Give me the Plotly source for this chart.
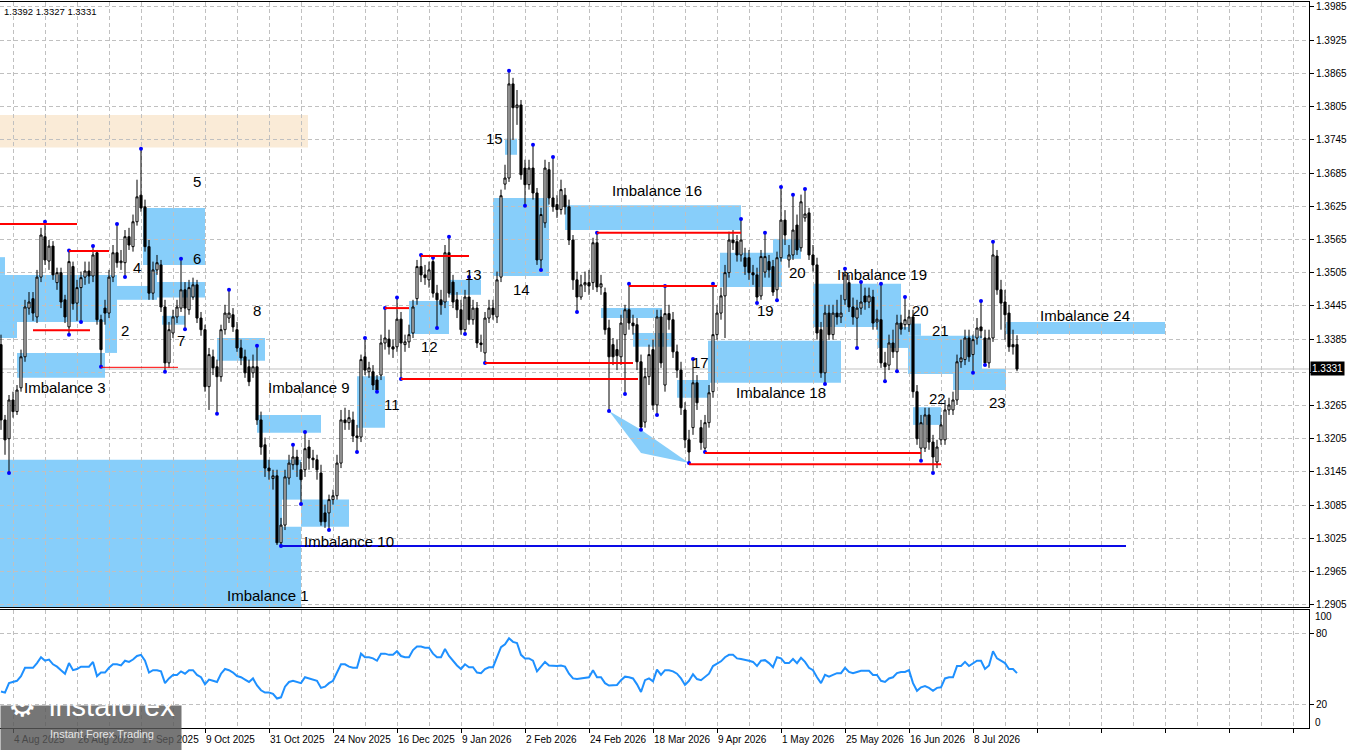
import plotly.graph_objects as go
from plotly.subplots import make_subplots

# daily bars, bar 0 = 4 Aug 2025, leftmost bar is index -3
FIRST_BAR = -3

opens = [
    1.3375, 1.3239, 1.3205, 1.3275, 1.3254, 1.3297, 1.3353, 1.3441, 1.3458, 1.3425,
    1.3497, 1.3570, 1.3526, 1.3553, 1.3487, 1.3505, 1.3456, 1.3407, 1.3516, 1.3450,
    1.3478, 1.3497, 1.3508, 1.3499, 1.3541, 1.3420, 1.3441, 1.3432, 1.3497, 1.3541,
    1.3523, 1.3523, 1.3570, 1.3552, 1.3597, 1.3645, 1.3624, 1.3552, 1.3468, 1.3510,
    1.3519, 1.3443, 1.3342, 1.3396, 1.3425, 1.3441, 1.3474, 1.3438, 1.3461, 1.3483,
    1.3423, 1.3402, 1.3299, 1.3353, 1.3335, 1.3317, 1.3402, 1.3423, 1.3429, 1.3402,
    1.3369, 1.3353, 1.3335, 1.3324, 1.3335, 1.3239, 1.3194, 1.3152, 1.3133, 1.3138,
    1.3017, 1.3049, 1.3134, 1.3158, 1.3172, 1.3149, 1.3149, 1.3190, 1.3170, 1.3167,
    1.3143, 1.3071, 1.3071, 1.3095, 1.3102, 1.3161, 1.3239, 1.3234, 1.3239, 1.3210,
    1.3208, 1.3353, 1.3326, 1.3326, 1.3311, 1.3320, 1.3378, 1.3385, 1.3371, 1.3371,
    1.3421, 1.3375, 1.3380, 1.3396, 1.3458, 1.3516, 1.3501, 1.3492, 1.3525, 1.3468,
    1.3456, 1.3452, 1.3541, 1.3488, 1.3456, 1.3438, 1.3402, 1.3461, 1.3420, 1.3441,
    1.3378, 1.3360, 1.3423, 1.3441, 1.3425, 1.3497, 1.3665, 1.3676, 1.3846, 1.3803,
    1.3808, 1.3694, 1.3664, 1.3694, 1.3649, 1.3528, 1.3595, 1.3691, 1.3640, 1.3628,
    1.3619, 1.3645, 1.3624, 1.3564, 1.3492, 1.3461, 1.3483, 1.3487, 1.3487, 1.3559,
    1.3479, 1.3469, 1.3405, 1.3375, 1.3366, 1.3353, 1.3393, 1.3438, 1.3414, 1.3411,
    1.3344, 1.3235, 1.3317, 1.3366, 1.3266, 1.3425, 1.3302, 1.3431, 1.3420, 1.3362,
    1.3329, 1.3257, 1.3203, 1.3225, 1.3306, 1.3225, 1.3188, 1.3234, 1.3290, 1.3393,
    1.3432, 1.3463, 1.3505, 1.3564, 1.3561, 1.3537, 1.3532, 1.3532, 1.3505, 1.3501,
    1.3463, 1.3506, 1.3525, 1.3516, 1.3474, 1.3532, 1.3600, 1.3528, 1.3537, 1.3591,
    1.3550, 1.3604, 1.3613, 1.3537, 1.3519, 1.3402, 1.3324, 1.3432, 1.3393, 1.3432,
    1.3425, 1.3456, 1.3487, 1.3443, 1.3423, 1.3441, 1.3463, 1.3452, 1.3461, 1.3416,
    1.3420, 1.3342, 1.3338, 1.3378, 1.3362, 1.3414, 1.3411, 1.3411, 1.3425, 1.3290,
    1.3188, 1.3188, 1.3248, 1.3199, 1.3163, 1.3203, 1.3203, 1.3257, 1.3257, 1.3275,
    1.3344, 1.3348, 1.3387, 1.3357, 1.3387, 1.3407, 1.3387, 1.3342, 1.3387, 1.3535,
    1.3474, 1.3452, 1.3432, 1.3375, 1.3375,
]
highs = [
    1.3393, 1.3248, 1.3284, 1.3290, 1.3302, 1.3366, 1.3456, 1.3470, 1.3470, 1.3510,
    1.3586, 1.3597, 1.3564, 1.3562, 1.3514, 1.3514, 1.3465, 1.3545, 1.3525, 1.3492,
    1.3507, 1.3525, 1.3525, 1.3553, 1.3546, 1.3429, 1.3456, 1.3510, 1.3555, 1.3593,
    1.3546, 1.3582, 1.3586, 1.3610, 1.3673, 1.3729, 1.3637, 1.3564, 1.3525, 1.3537,
    1.3528, 1.3456, 1.3416, 1.3438, 1.3456, 1.3530, 1.3488, 1.3492, 1.3496, 1.3492,
    1.3434, 1.3411, 1.3369, 1.3366, 1.3348, 1.3411, 1.3447, 1.3474, 1.3441, 1.3416,
    1.3384, 1.3366, 1.3348, 1.3357, 1.3373, 1.3254, 1.3207, 1.3167, 1.3149, 1.3149,
    1.3062, 1.3149, 1.3176, 1.3194, 1.3185, 1.3163, 1.3217, 1.3203, 1.3185, 1.3176,
    1.3158, 1.3086, 1.3104, 1.3113, 1.3176, 1.3257, 1.3261, 1.3257, 1.3254, 1.3230,
    1.3357, 1.3387, 1.3344, 1.3338, 1.3320, 1.3393, 1.3441, 1.3402, 1.3384, 1.3460,
    1.3434, 1.3393, 1.3411, 1.3456, 1.3528, 1.3537, 1.3519, 1.3525, 1.3532, 1.3483,
    1.3474, 1.3555, 1.3570, 1.3501, 1.3470, 1.3456, 1.3474, 1.3497, 1.3456, 1.3452,
    1.3393, 1.3434, 1.3456, 1.3456, 1.3507, 1.3655, 1.3700, 1.3870, 1.3857, 1.3835,
    1.3817, 1.3709, 1.3709, 1.3736, 1.3658, 1.3622, 1.3709, 1.3705, 1.3714, 1.3645,
    1.3673, 1.3658, 1.3637, 1.3573, 1.3507, 1.3501, 1.3507, 1.3510, 1.3568, 1.3577,
    1.3501, 1.3478, 1.3420, 1.3387, 1.3384, 1.3429, 1.3447, 1.3485, 1.3429, 1.3423,
    1.3357, 1.3333, 1.3375, 1.3384, 1.3438, 1.3438, 1.3481, 1.3447, 1.3434, 1.3375,
    1.3344, 1.3271, 1.3221, 1.3349, 1.3320, 1.3239, 1.3248, 1.3302, 1.3485, 1.3447,
    1.3478, 1.3519, 1.3579, 1.3582, 1.3573, 1.3602, 1.3550, 1.3546, 1.3519, 1.3514,
    1.3546, 1.3577, 1.3537, 1.3528, 1.3543, 1.3660, 1.3618, 1.3555, 1.3646, 1.3610,
    1.3646, 1.3656, 1.3622, 1.3555, 1.3532, 1.3416, 1.3447, 1.3447, 1.3447, 1.3456,
    1.3465, 1.3512, 1.3501, 1.3460, 1.3456, 1.3488, 1.3478, 1.3478, 1.3474, 1.3438,
    1.3485, 1.3362, 1.3393, 1.3402, 1.3429, 1.3429, 1.3461, 1.3438, 1.3438, 1.3302,
    1.3248, 1.3261, 1.3261, 1.3212, 1.3203, 1.3248, 1.3275, 1.3279, 1.3290, 1.3357,
    1.3384, 1.3402, 1.3402, 1.3393, 1.3423, 1.3454, 1.3402, 1.3402, 1.3561, 1.3546,
    1.3492, 1.3474, 1.3447, 1.3402, 1.3392,
]
lows = [
    1.3221, 1.3176, 1.3143, 1.3243, 1.3248, 1.3290, 1.3344, 1.3429, 1.3418, 1.3414,
    1.3488, 1.3519, 1.3510, 1.3492, 1.3474, 1.3441, 1.3414, 1.3393, 1.3438, 1.3418,
    1.3416, 1.3483, 1.3485, 1.3488, 1.3411, 1.3335, 1.3411, 1.3423, 1.3488, 1.3514,
    1.3510, 1.3497, 1.3546, 1.3543, 1.3590, 1.3615, 1.3543, 1.3456, 1.3456, 1.3501,
    1.3434, 1.3326, 1.3333, 1.3387, 1.3414, 1.3434, 1.3403, 1.3429, 1.3456, 1.3414,
    1.3391, 1.3290, 1.3257, 1.3320, 1.3250, 1.3308, 1.3393, 1.3414, 1.3398, 1.3362,
    1.3338, 1.3315, 1.3300, 1.3315, 1.3230, 1.3176, 1.3136, 1.3131, 1.3113, 1.3013,
    1.3011, 1.3040, 1.3122, 1.3149, 1.3136, 1.3087, 1.3136, 1.3149, 1.3152, 1.3131,
    1.3048, 1.3044, 1.3040, 1.3086, 1.3095, 1.3152, 1.3221, 1.3221, 1.3199, 1.3181,
    1.3199, 1.3320, 1.3315, 1.3293, 1.3290, 1.3311, 1.3366, 1.3357, 1.3351, 1.3362,
    1.3313, 1.3362, 1.3369, 1.3387, 1.3447, 1.3488, 1.3483, 1.3478, 1.3460, 1.3405,
    1.3429, 1.3441, 1.3460, 1.3441, 1.3423, 1.3393, 1.3394, 1.3411, 1.3411, 1.3369,
    1.3362, 1.3342, 1.3414, 1.3420, 1.3414, 1.3488, 1.3655, 1.3669, 1.3745, 1.3772,
    1.3673, 1.3626, 1.3655, 1.3637, 1.3519, 1.3510, 1.3586, 1.3628, 1.3615, 1.3604,
    1.3610, 1.3610, 1.3555, 1.3474, 1.3434, 1.3456, 1.3470, 1.3465, 1.3474, 1.3470,
    1.3465, 1.3393, 1.3255, 1.3338, 1.3329, 1.3338, 1.3286, 1.3402, 1.3393, 1.3329,
    1.3221, 1.3225, 1.3302, 1.3257, 1.3248, 1.3333, 1.3290, 1.3402, 1.3351, 1.3315,
    1.3248, 1.3188, 1.3161, 1.3212, 1.3257, 1.3185, 1.3181, 1.3225, 1.3279, 1.3384,
    1.3420, 1.3387, 1.3496, 1.3546, 1.3525, 1.3525, 1.3501, 1.3492, 1.3483, 1.3450,
    1.3456, 1.3496, 1.3496, 1.3463, 1.3455, 1.3525, 1.3555, 1.3514, 1.3528, 1.3537,
    1.3543, 1.3597, 1.3528, 1.3507, 1.3384, 1.3315, 1.3304, 1.3384, 1.3384, 1.3411,
    1.3414, 1.3447, 1.3434, 1.3411, 1.3369, 1.3429, 1.3438, 1.3441, 1.3402, 1.3402,
    1.3333, 1.3309, 1.3329, 1.3351, 1.3327, 1.3393, 1.3402, 1.3398, 1.3279, 1.3194,
    1.3165, 1.3181, 1.3185, 1.3143, 1.3152, 1.3194, 1.3194, 1.3248, 1.3248, 1.3266,
    1.3333, 1.3338, 1.3344, 1.3324, 1.3375, 1.3387, 1.3338, 1.3333, 1.3380, 1.3465,
    1.3402, 1.3384, 1.3362, 1.3357, 1.3327,
]
closes = [
    1.3239, 1.3203, 1.3275, 1.3254, 1.3293, 1.3353, 1.3443, 1.3452, 1.3432, 1.3497,
    1.3573, 1.3528, 1.3553, 1.3501, 1.3505, 1.3452, 1.3425, 1.3525, 1.3449, 1.3478,
    1.3496, 1.3508, 1.3499, 1.3537, 1.3420, 1.3366, 1.3432, 1.3497, 1.3541, 1.3523,
    1.3526, 1.3570, 1.3555, 1.3597, 1.3642, 1.3622, 1.3552, 1.3468, 1.3510, 1.3523,
    1.3443, 1.3342, 1.3402, 1.3425, 1.3443, 1.3474, 1.3441, 1.3478, 1.3483, 1.3423,
    1.3402, 1.3299, 1.3357, 1.3333, 1.3317, 1.3402, 1.3432, 1.3432, 1.3407, 1.3369,
    1.3351, 1.3324, 1.3308, 1.3335, 1.3239, 1.3190, 1.3152, 1.3147, 1.3138, 1.3017,
    1.3049, 1.3136, 1.3161, 1.3172, 1.3158, 1.3131, 1.3187, 1.3170, 1.3167, 1.3149,
    1.3055, 1.3055, 1.3095, 1.3102, 1.3161, 1.3239, 1.3234, 1.3243, 1.3210, 1.3207,
    1.3348, 1.3329, 1.3333, 1.3302, 1.3293, 1.3378, 1.3387, 1.3371, 1.3367, 1.3421,
    1.3378, 1.3380, 1.3393, 1.3443, 1.3516, 1.3501, 1.3496, 1.3510, 1.3468, 1.3456,
    1.3447, 1.3541, 1.3468, 1.3452, 1.3438, 1.3402, 1.3461, 1.3420, 1.3441, 1.3378,
    1.3375, 1.3423, 1.3441, 1.3429, 1.3492, 1.3644, 1.3676, 1.3846, 1.3803, 1.3808,
    1.3682, 1.3664, 1.3694, 1.3649, 1.3528, 1.3610, 1.3694, 1.3640, 1.3624, 1.3619,
    1.3655, 1.3624, 1.3564, 1.3492, 1.3461, 1.3483, 1.3487, 1.3481, 1.3559, 1.3479,
    1.3485, 1.3402, 1.3353, 1.3353, 1.3355, 1.3414, 1.3438, 1.3414, 1.3409, 1.3344,
    1.3226, 1.3317, 1.3357, 1.3266, 1.3425, 1.3342, 1.3431, 1.3420, 1.3362, 1.3329,
    1.3261, 1.3203, 1.3181, 1.3306, 1.3270, 1.3198, 1.3234, 1.3288, 1.3393, 1.3432,
    1.3463, 1.3505, 1.3564, 1.3559, 1.3537, 1.3564, 1.3516, 1.3505, 1.3501, 1.3461,
    1.3534, 1.3534, 1.3510, 1.3470, 1.3532, 1.3600, 1.3573, 1.3537, 1.3582, 1.3546,
    1.3633, 1.3611, 1.3537, 1.3519, 1.3396, 1.3324, 1.3432, 1.3393, 1.3432, 1.3425,
    1.3432, 1.3501, 1.3443, 1.3425, 1.3441, 1.3452, 1.3452, 1.3463, 1.3414, 1.3421,
    1.3342, 1.3335, 1.3378, 1.3362, 1.3414, 1.3403, 1.3420, 1.3425, 1.3290, 1.3205,
    1.3234, 1.3248, 1.3199, 1.3172, 1.3190, 1.3230, 1.3257, 1.3266, 1.3275, 1.3344,
    1.3351, 1.3387, 1.3353, 1.3384, 1.3405, 1.3400, 1.3342, 1.3387, 1.3537, 1.3474,
    1.3450, 1.3429, 1.3371, 1.3371, 1.3331,
]

# oscillator in the lower window, one value per bar
rsi = [
    31, 30, 38, 39, 40, 44, 51, 51, 51, 55,
    60, 57, 58, 54, 52, 49, 46, 55, 49, 50,
    52, 52, 52, 56, 44, 47, 47, 51, 54, 54,
    53, 57, 56, 58, 61, 62, 57, 47, 49, 49,
    48, 38, 42, 45, 45, 48, 46, 49, 49, 45,
    43, 37, 41, 40, 39, 46, 50, 49, 47, 44,
    43, 41, 39, 42, 36, 32, 30, 30, 29, 25,
    26, 35, 39, 40, 39, 38, 43, 42, 41, 40,
    34, 35, 38, 40, 47, 54, 54, 52, 51, 51,
    63, 60, 60, 59, 57, 63, 63, 62, 62, 65,
    61, 60, 60, 66, 69, 69, 68, 68, 63, 60,
    60, 67, 61,
    57, 53, 50, 54, 51.5, 51.5, 47, 46.5, 50, 51.5,
    51.5, 60, 68.5, 71, 76, 73, 72, 62, 59, 59,
    57, 48, 52, 56, 53, 52.5, 52.5, 53, 52, 46,
    42, 41.5, 42, 43, 43, 49, 43, 43, 38, 36,
    36, 36.5, 40.5, 43.5, 43, 42, 37, 30.5, 40.5, 42,
    39.5, 49.5, 45, 49, 49, 48, 46, 42, 36.5, 40,
    45.5, 41.5, 40.5, 43, 46, 52.5, 54.5, 56.5, 60, 62,
    62, 59, 58.5, 58, 57, 56, 52.5, 57, 57.5, 55,
    51.5, 60, 59, 55, 55, 58.5, 55, 59.5, 56, 51,
    49, 43, 38, 45, 43.5, 45, 46.5, 46.5, 51, 47.5,
    46.5, 47.5, 48.5, 48.5, 48.5, 45, 45, 40, 39, 42,
    43, 46.5,
    47.5, 47.5, 49, 38, 31.5, 34.5, 35.5, 34, 31.5, 34,
    34.5, 42, 43, 43, 52.5, 52.5, 56, 52.5, 55, 57,
    57, 50, 53, 65, 59, 57, 55, 50, 50, 46.5,
]

# fractal dots (bar indices)
high_marks = [8, 14, 20, 26, 32, 42, 54, 61, 70, 73, 88, 93, 96, 102, 105, 109, 114,
              124, 130, 135, 146, 154, 163, 170, 175, 182, 188, 192, 195, 198, 208,
              212, 217, 223, 242, 245]
low_marks = [-1, 14, 17, 22, 28, 38, 43, 51, 67, 72, 79, 86, 91, 97, 106, 113, 118,
             128, 132, 141, 149, 153, 157, 161, 169, 173, 186, 191, 203, 211, 218,
             221, 227, 230, 240, 243]

price_ticks = [1.2905, 1.2965, 1.3025, 1.3085, 1.3145, 1.3205, 1.3265, 1.3325, 1.3385,
               1.3445, 1.3505, 1.3565, 1.3625, 1.3685, 1.3745, 1.3805, 1.3865, 1.3925,
               1.3985]
price_tick_text = ['1.2905', '1.2965', '1.3025', '1.3085', '1.3145', '1.3205', '1.3265', '',
                   '1.3385', '1.3445', '1.3505', '1.3565', '1.3625', '1.3685', '1.3745',
                   '1.3805', '1.3865', '1.3925', '1.3985']
date_ticks = [0, 16, 32, 48, 64, 80, 96, 112, 128, 144, 160, 176, 192, 208, 224, 240]
date_labels = ['4 Aug 2025', '26 Aug 2025', '17 Sep 2025', '9 Oct 2025', '31 Oct 2025',
               '24 Nov 2025', '16 Dec 2025', '9 Jan 2026', '2 Feb 2026', '24 Feb 2026',
               '18 Mar 2026', '9 Apr 2026', '1 May 2026', '25 May 2026', '16 Jun 2026',
               '8 Jul 2026']

# imbalance zones, visible pieces: (bar from, bar to, price low, price high)
zones = [
    (-3.25, -2, 1.3501, 1.3533), (-3.25, 26, 1.3416, 1.3501), (-3.25, 1, 1.3387, 1.3416),
    (23, 26, 1.3360, 1.3416), (1, 23, 1.3315, 1.3360),
    (26, 33.75, 1.3456, 1.3481), (33.75, 36, 1.3456, 1.3519), (32.5, 48, 1.3519, 1.3622),
    (36, 48, 1.3460, 1.3488), (37.25, 43, 1.3411, 1.3427), (51, 63, 1.3346, 1.3387),
    (61, 77, 1.3216, 1.3248),
    (-3.25, 67.25, 1.2880, 1.3167), (67.25, 72, 1.3095, 1.3167), (67.25, 72, 1.2880, 1.3046),
    (72, 84, 1.3046, 1.3095), (86, 93, 1.3225, 1.3318),
    (99, 109, 1.3394, 1.3454), (109, 117, 1.3465, 1.3492), (120, 134, 1.3499, 1.3640),
    (123, 126, 1.3718, 1.3747), (138, 182, 1.3582, 1.3627),
    (147, 162.25, 1.3423, 1.3441), (155, 165, 1.3371, 1.3396), (166, 174.25, 1.3279, 1.3311),
    (173.75, 207, 1.3306, 1.3382), (176.75, 192.25, 1.3479, 1.3541), (190, 197, 1.3530, 1.3566),
    (200, 222, 1.3407, 1.3485), (216, 223.75, 1.3369, 1.3407), (223.75, 227, 1.3391, 1.3413),
    (223.75, 242.25, 1.3322, 1.3391), (235, 248.25, 1.3293, 1.3322),
    (242.25, 248.25, 1.3322, 1.3331), (225, 232, 1.3230, 1.3262),
    (248.25, 288, 1.3394, 1.3416),
]
supply_zone = (-3.25, 73.75, 1.3731, 1.3790)
wedge = [(149, 1.3255), (157, 1.3221), (169, 1.3161), (157, 1.3179)]

# horizontal levels: (bar from, bar to, price, width)
red_levels = [
    (-3.25, 16, 1.3593, 2), (14, 24, 1.3544, 2), (5, 19.25, 1.3401, 2), (22, 41.25, 1.3334, 1),
    (93, 99, 1.3441, 2), (102, 114, 1.3535, 2), (118, 155, 1.3342, 2), (97, 156.25, 1.3313, 2),
    (146, 182, 1.3577, 2), (154, 176, 1.3481, 2), (173, 227, 1.3179, 2), (169, 232, 1.3159, 2),
]
blue_level = (67, 278.25, 1.3011)
last_price = 1.3331

zone_labels = [
    (63.75, 1.2922, 'Imbalance 1'), (13, 1.3297, 'Imbalance 3'), (74, 1.3297, 'Imbalance 9'),
    (84, 1.3020, 'Imbalance 10'), (161, 1.3653, 'Imbalance 16'), (192, 1.3289, 'Imbalance 18'),
    (217.25, 1.3501, 'Imbalance 19'), (268, 1.3428, 'Imbalance 24'),
    (28, 1.3400, '2'), (31, 1.3515, '4'), (46, 1.3669, '5'), (46, 1.3530, '6'),
    (42, 1.3383, '7'), (61, 1.3436, '8'), (94.75, 1.3266, '11'), (104, 1.3371, '12'),
    (115, 1.3501, '13'), (127, 1.3474, '14'), (120.25, 1.3747, '15'), (171.75, 1.3342, '17'),
    (188, 1.3436, '19'), (196, 1.3506, '20'), (226.75, 1.3437, '20'), (231.75, 1.3401, '21'),
    (231, 1.3278, '22'), (246, 1.3271, '23'),
]

bars = list(range(FIRST_BAR, FIRST_BAR + len(closes)))
GRID = '#C0C0C0'
FONT = 'Liberation Sans'

fig = make_subplots(rows=2, cols=1, shared_xaxes=True,
                    vertical_spacing=3 / 726, row_heights=[605, 118])

fig.add_trace(go.Candlestick(
    x=bars, open=opens, high=highs, low=lows, close=closes,
    increasing=dict(line=dict(color='black', width=1), fillcolor='white'),
    decreasing=dict(line=dict(color='black', width=1), fillcolor='black'),
    whiskerwidth=0, hoverinfo='skip'), row=1, col=1)

fig.add_trace(go.Scatter(
    x=high_marks + low_marks,
    y=[highs[i - FIRST_BAR] for i in high_marks] + [lows[i - FIRST_BAR] for i in low_marks],
    mode='markers', marker=dict(color='#0000FF', size=4), hoverinfo='skip'), row=1, col=1)

fig.add_trace(go.Scatter(x=bars[:len(rsi)], y=rsi, mode='lines',
                         line=dict(color='#1E90FF', width=2), hoverinfo='skip'),
              row=2, col=1)

# zones and lines
fig.add_shape(type='rect', x0=supply_zone[0], x1=supply_zone[1], y0=supply_zone[2],
              y1=supply_zone[3], xref='x', yref='y', fillcolor='#FAEBD7',
              line_width=0, layer='below')
for x0, x1, y0, y1 in zones:
    fig.add_shape(type='rect', x0=x0, x1=x1, y0=y0, y1=y1, xref='x', yref='y',
                  fillcolor='#87CEFA', line_width=0, layer='below')
path = 'M ' + ' L '.join(f'{x},{y}' for x, y in wedge) + ' Z'
fig.add_shape(type='path', path=path, xref='x', yref='y', fillcolor='#87CEFA',
              line_width=0, layer='below')
fig.add_shape(type='line', x0=0, x1=1, y0=last_price, y1=last_price, xref='paper',
              yref='y', line=dict(color='#C0C0C0', width=1), layer='below')
for x0, x1, y, w in red_levels:
    fig.add_shape(type='line', x0=x0, x1=x1, y0=y, y1=y, xref='x', yref='y',
                  line=dict(color='#FF0000', width=w), layer='above')
fig.add_shape(type='line', x0=blue_level[0], x1=blue_level[1], y0=blue_level[2],
              y1=blue_level[2], xref='x', yref='y',
              line=dict(color='#0A0AE6', width=2), layer='above')

annotations = []
for x, y, t in zone_labels:
    annotations.append(dict(x=x, y=y, xref='x', yref='y', text=t, showarrow=False,
                            font=dict(family=FONT, size=15, color='black')))
annotations.append(dict(x=2 / 1309, y=0.997, xref='paper', yref='paper',
                        text='1.3392 1.3327 1.3331', showarrow=False, xanchor='left',
                        yanchor='top', font=dict(family=FONT, size=9.5, color='black')))
annotations.append(dict(x=1, y=last_price, xref='paper', yref='y', text='1.3331',
                        showarrow=False, xanchor='left', xshift=1, bgcolor='black',
                        borderpad=1, font=dict(family=FONT, size=10, color='white')))
annotations.append(dict(x=1, y=100, xref='paper', yref='y2', text='100', showarrow=False,
                        xanchor='left', xshift=4, yshift=-6,
                        font=dict(family=FONT, size=10, color='black')))
annotations.append(dict(x=1, y=0, xref='paper', yref='y2', text='0', showarrow=False,
                        xanchor='left', xshift=4, yshift=6,
                        font=dict(family=FONT, size=10, color='black')))
for x, t in zip(date_ticks, date_labels):
    annotations.append(dict(x=x, y=-0.0055, xref='x2', yref='paper', text=t,
                            showarrow=False, xanchor='left', yanchor='top', xshift=-1,
                            font=dict(family=FONT, size=10, color='black')))
# broker logo in the corner
annotations.append(dict(x=0, y=23 / 726, xref='paper', yref='paper', text=' ',
                        showarrow=False, xanchor='left', yanchor='top', width=180,
                        height=45, borderpad=0, bgcolor='rgba(88,88,88,0.82)'))
annotations.append(dict(x=6 / 1309, y=2 / 726, xref='paper', yref='paper', text='⚙',
                        showarrow=False, xanchor='left',
                        font=dict(family='DejaVu Sans', size=32, color='white')))
annotations.append(dict(x=47 / 1309, y=4 / 726, xref='paper', yref='paper',
                        text='instaforex', showarrow=False, xanchor='left',
                        font=dict(family=FONT, size=29, color='white')))
annotations.append(dict(x=48 / 1309, y=-14 / 726, xref='paper', yref='paper',
                        text='Instant Forex Trading', showarrow=False, xanchor='left',
                        font=dict(family=FONT, size=11, color='#E6E6E6')))

fig.update_layout(
    width=1350, height=750, margin=dict(l=0, r=41, t=2, b=22),
    paper_bgcolor='white', plot_bgcolor='white', showlegend=False,
    boxgap=0.25, annotations=annotations,
    font=dict(family=FONT, size=10, color='black'),
)

xcommon = dict(range=[-3.25, 324], tickmode='linear', tick0=0, dtick=16,
               showgrid=True, gridcolor=GRID, griddash='4px,3px', gridwidth=1,
               minor=dict(tick0=0, dtick=8, showgrid=True, gridcolor=GRID,
                          griddash='4px,3px', ticks=''),
               showline=True, mirror=True, linecolor='black', linewidth=1,
               zeroline=False, showticklabels=False, rangeslider_visible=False)
fig.update_xaxes(**xcommon, ticks='', row=1, col=1)
fig.update_xaxes(**xcommon, ticks='outside', ticklen=4, tickcolor='black', row=2, col=1)

fig.update_yaxes(side='right', range=[1.2901, 1.3994], tickmode='array',
                 tickvals=price_ticks, ticktext=price_tick_text,
                 ticks='outside', ticklen=4, tickcolor='black', showgrid=True,
                 gridcolor=GRID, griddash='4px,3px', showline=True, linecolor='black',
                 zeroline=False, tickfont=dict(family=FONT, size=10, color='black'),
                 row=1, col=1)
fig.update_yaxes(side='right', range=[0, 100], tickmode='array', tickvals=[20, 80],
                 ticktext=['20', '80'], ticks='outside', ticklen=4, tickcolor='black',
                 showgrid=True, gridcolor=GRID, griddash='4px,3px', showline=True,
                 linecolor='black', zeroline=False,
                 tickfont=dict(family=FONT, size=10, color='black'), row=2, col=1)

# the page must start at the very corner, like the terminal window
fig.write_html('out.html', config={'displayModeBar': False},
               post_script="document.body.style.margin='0';"
                           "document.body.style.overflow='hidden';")
